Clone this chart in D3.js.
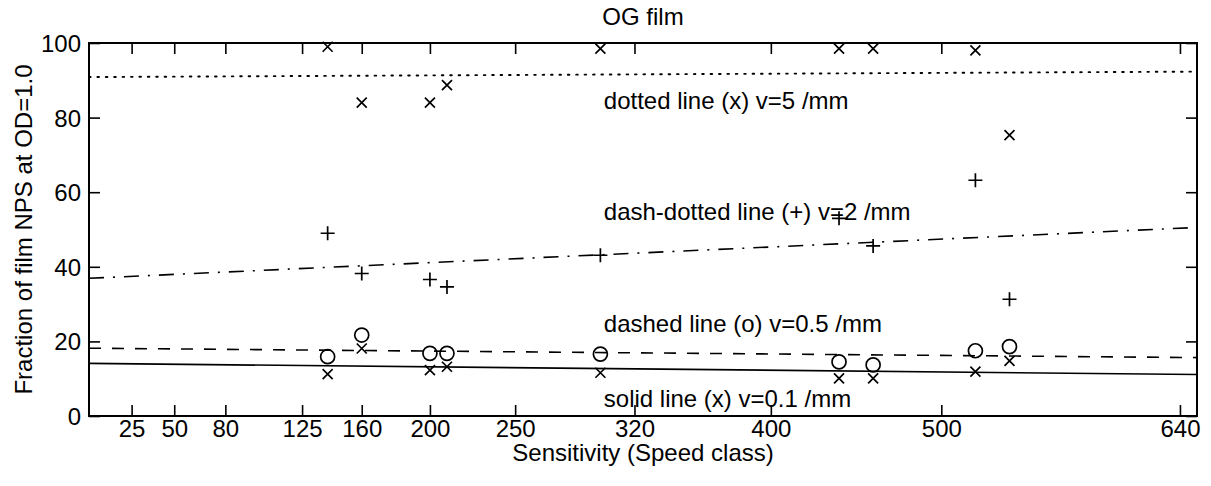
<!DOCTYPE html>
<html>
<head>
<meta charset="utf-8">
<script src="https://cdn.jsdelivr.net/npm/d3@7/dist/d3.min.js"></script>
<style>
  html, body { margin: 0; padding: 0; background: #fff; }
  svg { display: block; font-family: "Liberation Sans", Arial, Helvetica, sans-serif; }
  text { fill: #000; }
</style>
</head>
<body>
<svg id="chart" width="1211" height="486"></svg>
<script>
// Film speed classes of the measured films
const speeds = [140, 160, 200, 210, 300, 440, 460, 520, 540];

// Fraction of film NPS at OD = 1.0, per spatial frequency
const nps01 = [11.2, 18.1, 12.3, 13.2, 11.6, 10.1, 10.1, 11.9, 14.8];
const nps05 = [15.9, 21.7, 16.8, 16.8, 16.6, 14.5, 13.7, 17.5, 18.6];
const nps2  = [49.0, 38.2, 36.6, 34.6, 43.1, 53.0, 45.6, 63.2, 31.3];
const nps5  = [99.0, 84.0, 84.0, 88.7, 98.5, 98.5, 98.5, 98.0, 75.3];

// Axis ticks
const xTicks = [25, 50, 80, 125, 160, 200, 250, 320, 400, 500, 640];
const yTicks = [0, 20, 40, 60, 80, 100];

const seriesLabels = [
  "solid line (x) v=0.1 /mm",
  "dashed line (o) v=0.5 /mm",
  "dash-dotted line (+) v=2 /mm",
  "dotted line (x) v=5 /mm"
];

const titleText = "OG film";
const xLabelText = "Sensitivity (Speed class)";
const yLabelText = "Fraction of film NPS at OD=1.0";

// ---- layout ----
const svg = d3.select("#chart");
const plot = { left: 89, right: 1197, top: 43, bottom: 416 };

const x = d3.scaleLinear().domain([0, 650]).range([plot.left, plot.right]);
const y = d3.scaleLinear().domain([0, 100]).range([plot.bottom, plot.top]);

const series = [
  { values: nps01, marker: "x", dash: null,       dotted: false, label: seriesLabels[0], labelAt: 5 },
  { values: nps05, marker: "o", dash: "12,11",    dotted: false, label: seriesLabels[1], labelAt: 25 },
  { values: nps2,  marker: "+", dash: "15,9,2,9", dotted: false, label: seriesLabels[2], labelAt: 55 },
  { values: nps5,  marker: "x", dash: "1.6,6.8",  dotted: true,  label: seriesLabels[3], labelAt: 85 }
];

// least-squares straight line through a series
function fitLine(xs, ys) {
  const mx = d3.mean(xs), my = d3.mean(ys);
  let sxy = 0, sxx = 0;
  xs.forEach((v, i) => { sxy += (v - mx) * (ys[i] - my); sxx += (v - mx) * (v - mx); });
  const b = sxy / sxx;
  const a = my - b * mx;
  return v => a + b * v;
}

svg.append("defs").append("clipPath").attr("id", "plotClip")
  .append("rect")
  .attr("x", plot.left).attr("y", plot.top)
  .attr("width", plot.right - plot.left).attr("height", plot.bottom - plot.top);

const body = svg.append("g").attr("clip-path", "url(#plotClip)");

// fit lines
series.forEach(s => {
  const f = fitLine(speeds, s.values);
  body.append("path")
    .datum(x.domain())
    .attr("d", d3.line().x(d => x(d)).y(d => y(f(d))))
    .attr("fill", "none")
    .attr("stroke", "#000")
    .attr("stroke-width", s.dotted ? 1.9 : 1.6)
    .attr("stroke-linecap", s.dotted ? "round" : "butt")
    .attr("stroke-dasharray", s.dash);
});

// markers
const mk = svg.append("g").attr("stroke", "#000").attr("stroke-width", 1.7).attr("fill", "none");
series.forEach(s => {
  speeds.forEach((sp, i) => {
    const cx = x(sp), cy = y(s.values[i]);
    if (s.marker === "x") {
      const r = 5;
      mk.append("path").attr("d", `M${cx - r},${cy - r}L${cx + r},${cy + r}M${cx - r},${cy + r}L${cx + r},${cy - r}`);
    } else if (s.marker === "+") {
      const r = 7;
      mk.append("path").attr("d", `M${cx - r},${cy}L${cx + r},${cy}M${cx},${cy - r}L${cx},${cy + r}`);
    } else {
      mk.append("circle").attr("cx", cx).attr("cy", cy).attr("r", 7);
    }
  });
});

// series labels inside the plot
series.forEach(s => {
  svg.append("text")
    .attr("x", x(302))
    .attr("y", y(s.labelAt))
    .attr("dy", "0.4em")
    .attr("font-size", 24)
    .text(s.label);
});

// axes: ticks point inward on all four sides
const tickLen = 11;
const axisBottom = d3.axisBottom(x).tickValues(xTicks).tickSize(-tickLen).tickPadding(4).tickFormat(d3.format("d"));
const axisTop = d3.axisTop(x).tickValues(xTicks).tickSize(-tickLen).tickFormat("");
const axisLeft = d3.axisLeft(y).tickValues(yTicks).tickSize(-tickLen).tickPadding(8).tickFormat(d3.format("d"));
const axisRight = d3.axisRight(y).tickValues(yTicks).tickSize(-tickLen).tickFormat("");

function styleAxis(g) {
  g.select(".domain").remove();
  g.selectAll(".tick line").attr("stroke", "#000").attr("stroke-width", 1.6);
  g.selectAll(".tick text").attr("font-size", 24).attr("font-family", "Liberation Sans, Arial, sans-serif").attr("fill", "#000");
}

svg.append("g").attr("transform", `translate(0,${plot.bottom})`).call(axisBottom).call(styleAxis);
svg.append("g").attr("transform", `translate(0,${plot.top})`).call(axisTop).call(styleAxis);
svg.append("g").attr("transform", `translate(${plot.left},0)`).call(axisLeft).call(styleAxis)
  .selectAll(".tick text").attr("dy", "0.35em");
svg.append("g").attr("transform", `translate(${plot.right},0)`).call(axisRight).call(styleAxis);

// frame
svg.append("rect")
  .attr("x", plot.left).attr("y", plot.top)
  .attr("width", plot.right - plot.left).attr("height", plot.bottom - plot.top)
  .attr("fill", "none").attr("stroke", "#000").attr("stroke-width", 2);

// title and axis labels
svg.append("text")
  .attr("x", (plot.left + plot.right) / 2).attr("y", 25)
  .attr("text-anchor", "middle").attr("font-size", 24)
  .text(titleText);

svg.append("text")
  .attr("x", (plot.left + plot.right) / 2).attr("y", 461)
  .attr("text-anchor", "middle").attr("font-size", 24)
  .text(xLabelText);

svg.append("text")
  .attr("transform", `translate(32,${(plot.top + plot.bottom) / 2}) rotate(-90)`)
  .attr("text-anchor", "middle").attr("font-size", 24)
  .text(yLabelText);
</script>
</body>
</html>
